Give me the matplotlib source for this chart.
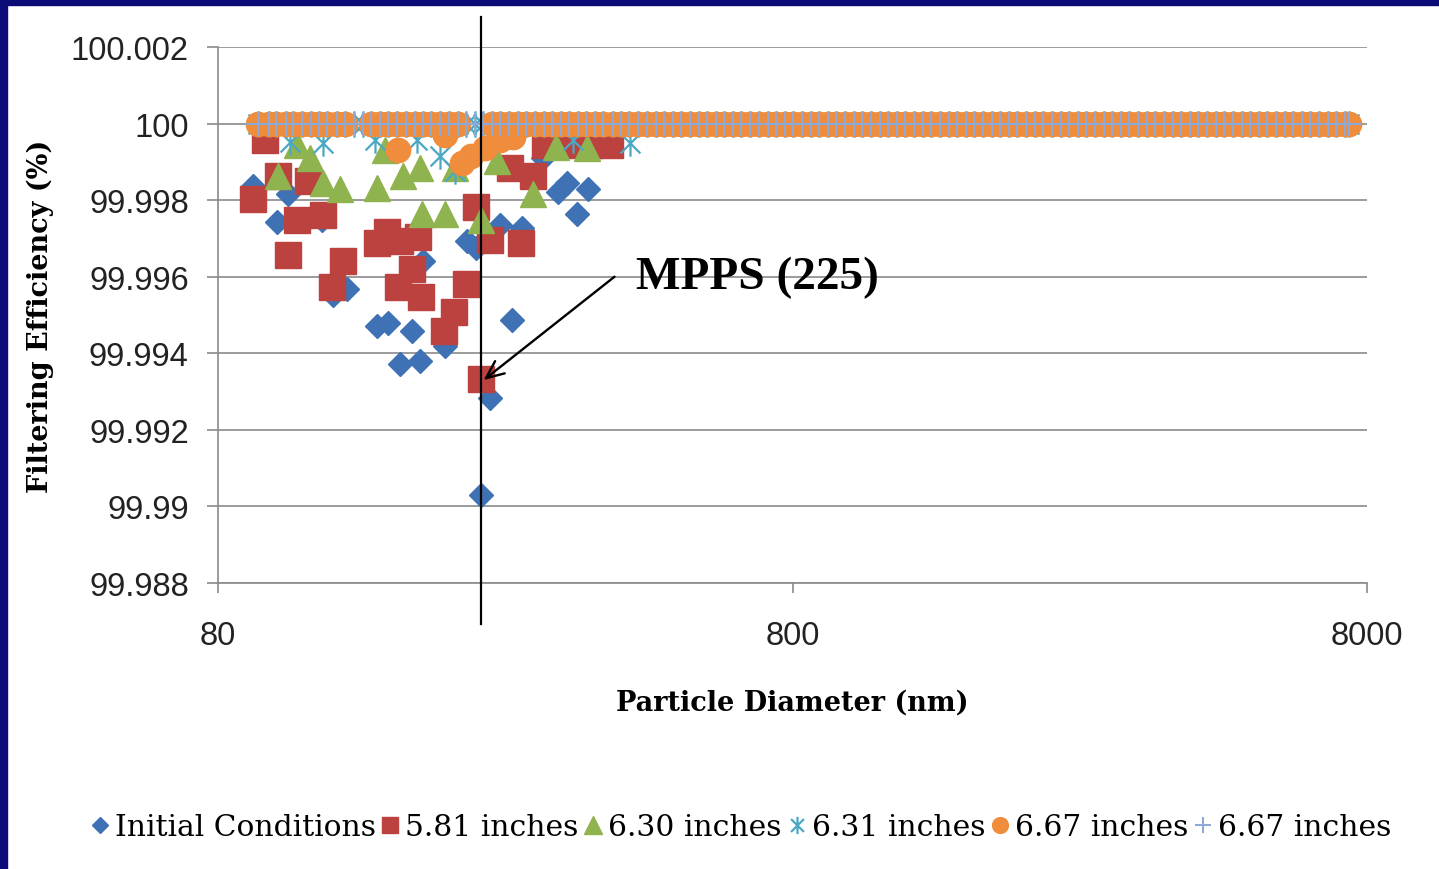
import numpy as np
import matplotlib.pyplot as plt
from matplotlib.path import Path
from matplotlib.patches import Rectangle
from matplotlib.ticker import NullLocator

# particle diameters (nm) of the size bins; most of them sit on the 100 % line
grid_nm = [94, 98, 101, 105, 108, 112, 116, 120, 124, 129, 133, 138, 143, 148, 153,
           158, 164, 170, 176, 182, 188, 195, 202, 209, 216, 224, 231, 240, 248, 257,
           266, 275, 285, 295, 305, 316, 327, 338, 350, 363, 375, 389, 402, 416, 431,
           446, 462, 478, 495, 512, 530, 549, 568, 588, 609, 630, 652, 675, 699, 724,
           749, 775, 803, 831, 860, 890, 921, 954, 987, 1022, 1058, 1095, 1134, 1174,
           1215, 1258, 1302, 1348, 1395, 1444, 1495, 1547, 1602, 1658, 1716, 1777,
           1839, 1904, 1971, 2040, 2112, 2186, 2263, 2342, 2425, 2510, 2598, 2689,
           2784, 2882, 2983, 3088, 3196, 3309, 3425, 3545, 3670, 3799, 3932, 4071,
           4214, 4362, 4515, 4674, 4838, 5008, 5184, 5366, 5555, 5750, 5952, 6161,
           6378, 6602, 6834, 7074, 7323, 7450]
band_eff = 100.0
orange_gap_nm = [138, 143, 216, 224, 231]

initial_nm = [92.0, 101.3, 105.9, 121.3, 126.8, 134.1, 151.2, 158.0, 165.8, 174.0,
              179.6, 181.8, 198.5, 216.8, 224.8, 229.3, 237.7, 247.4, 259.5, 270.2,
              294.0, 312.1, 323.6, 336.8, 352.0]
initial_eff = [99.99836, 99.99744, 99.99817, 99.99747, 99.99551, 99.99567, 99.99470,
               99.99478, 99.99371, 99.99459, 99.99381, 99.99642, 99.99420, 99.99692,
               99.99674, 99.99031, 99.99282, 99.99736, 99.99486, 99.99726, 99.99909,
               99.99822, 99.99846, 99.99765, 99.99830]

in581_nm = [92.0, 96.6, 101.7, 105.9, 109.8, 114.7, 121.8, 126.3, 132.0, 151.2,
            157.4, 164.5, 165.8, 174.0, 178.2, 180.3, 197.7, 205.8, 215.9, 224.8,
            229.3, 237.7, 257.6, 269.1, 282.4, 296.3, 321.0, 354.9, 384.4]
in581_eff = [99.99802, 99.99958, 99.99864, 99.99658, 99.99747, 99.99849, 99.99762,
             99.99574, 99.99642, 99.99689, 99.99718, 99.99574, 99.99692, 99.99621,
             99.99705, 99.99548, 99.99457, 99.99509, 99.99580, 99.99783, 99.99334,
             99.99695, 99.99883, 99.99687, 99.99864, 99.99945, 99.99945, 99.99945,
             99.99945]

in630_nm = [101.7, 109.8, 115.6, 121.8, 130.4, 151.2, 156.0, 167.8, 179.6, 181.1,
            198.5, 206.6, 229.3, 244.5, 282.4, 309.6, 350.6]
in630_eff = [99.99864, 99.99943, 99.99911, 99.99846, 99.99830, 99.99833, 99.99930,
             99.99864, 99.99885, 99.99765, 99.99765, 99.99883, 99.99747, 99.99903,
             99.99817, 99.99940, 99.99935]

in631_nm = [106.7, 121.8, 150.0, 177.5, 194.6, 206.6, 331.5, 416.5]
in631_eff = [99.99953, 99.99948, 99.99956, 99.99956, 99.99914, 99.99875, 99.99956,
             99.99948]

in667a_nm = [164.5, 198.5, 212.6, 220.6, 233.4, 247.4, 260.7]
in667a_eff = [99.99930, 99.99969, 99.99896, 99.99916, 99.99935, 99.99958, 99.99966]

mpps_label = "MPPS (225)"
yticks = [99.988, 99.990, 99.992, 99.994, 99.996, 99.998, 100.0, 100.002]
ytick_labels = ["99.988", "99.99", "99.992", "99.994", "99.996", "99.998", "100", "100.002"]
xticks = [80, 800, 8000]

STAR = Path([(0, -1), (0, 1), (-0.75, -0.75), (0.75, 0.75), (-0.75, 0.75), (0.75, -0.75)],
            [Path.MOVETO, Path.LINETO] * 3)


def main():
    W, H = 1439, 870
    fig = plt.figure(figsize=(W / 100, H / 100), dpi=100, facecolor="white")
    navy = "#0c0c78"
    fig.patches.append(Rectangle((0, 0), 7 / W, 1, transform=fig.transFigure,
                                 color=navy, zorder=-10))
    fig.patches.append(Rectangle((0, 1 - 6 / H), 1, 6 / H, transform=fig.transFigure,
                                 color=navy, zorder=-10))

    ax = fig.add_axes([218 / W, 1 - 584 / H, (1367 - 218) / W, (584 - 48) / H])
    ax.set_xscale("log")
    ax.set_xlim(80, 8000)
    ax.set_ylim(99.988, 100.002)

    band = [band_eff] * len(grid_nm)
    orange_band = [d for d in grid_nm if d not in orange_gap_nm]

    ax.plot(initial_nm, initial_eff, ls="none", marker="D", ms=12.5,
            color="#3f72b5", mec="#3f72b5", label="Initial Conditions", zorder=3)
    ax.plot(in581_nm, in581_eff, ls="none", marker="s", ms=18.5,
            color="#bb423e", mec="#bb423e", label="5.81 inches", zorder=3)
    ax.plot(in630_nm, in630_eff, ls="none", marker="^", ms=19,
            color="#8fb34e", mec="#8fb34e", label="6.30 inches", zorder=3)
    ax.plot(in631_nm + grid_nm, in631_eff + band, ls="none", marker=STAR, ms=19,
            mfc="none", mec="#4aa8c4", mew=1.6, label="6.31 inches", zorder=3)
    ax.plot(in667a_nm + orange_band, in667a_eff + [band_eff] * len(orange_band),
            ls="none", marker="o", ms=17.5, color="#ef8d3c", mec="#ef8d3c",
            label="6.67 inches", zorder=3)
    ax.plot(grid_nm, band, ls="none", marker="+", ms=17, mew=1.5,
            color="#8fa9d6", label="6.67 inches", zorder=3)

    mpps_nm = in581_nm[int(np.argmin(in581_eff))]
    ax.axvline(mpps_nm, ymin=-0.0765, ymax=1.056, color="black", lw=1.6,
               clip_on=False, zorder=5)
    ax.annotate("", xy=(232, 99.99330), xytext=(392, 99.99600),
                arrowprops=dict(arrowstyle="->,head_length=0.8,head_width=0.35",
                                lw=1.7, color="black", mutation_scale=16,
                                shrinkA=0, shrinkB=0), zorder=6)
    ax.text(427, 99.99600, mpps_label, ha="left", va="center",
            family="Liberation Serif", weight="bold", fontsize=34, zorder=6)

    ax.set_yticks(yticks)
    ax.set_yticklabels(ytick_labels)
    ax.set_xticks(xticks)
    ax.set_xticklabels([str(x) for x in xticks])
    ax.xaxis.set_minor_locator(NullLocator())

    grey = "#8a8a8a"
    ax.yaxis.grid(True, color=grey, lw=1.2)
    ax.set_axisbelow(True)
    for s in ("top", "right"):
        ax.spines[s].set_visible(False)
    for s in ("left", "bottom"):
        ax.spines[s].set_color(grey)
        ax.spines[s].set_linewidth(1.2)
    ax.tick_params(axis="y", length=8, width=1.2, color=grey, pad=13,
                   labelsize=23.5, labelcolor="#222222")
    ax.tick_params(axis="x", length=7.5, width=1.2, color=grey, pad=19,
                   labelsize=23.5, labelcolor="#222222")
    for lab in ax.get_xticklabels() + ax.get_yticklabels():
        lab.set_family("Liberation Sans")

    ax.set_xlabel("Particle Diameter (nm)", family="DejaVu Serif", weight="bold",
                  fontsize=19.5, va="center")
    ax.xaxis.set_label_coords(0.5, (584 - 703) / 536)
    ax.set_ylabel("Filtering Efficiency (%)", family="DejaVu Serif", weight="bold",
                  fontsize=19.5, va="center")
    ax.yaxis.set_label_coords((40 - 218) / 1149, 0.5)

    handles, labels = ax.get_legend_handles_labels()
    fig.legend(handles, labels, loc="center", bbox_to_anchor=(741 / W, 1 - 828 / H),
               ncol=6, frameon=False, markerscale=0.65, handlelength=0.6,
               handletextpad=0.2, columnspacing=0.2, borderpad=0,
               prop={"family": "DejaVu Serif", "size": 21.4})

    fig.savefig("out.png", dpi=100, facecolor=fig.get_facecolor())


if __name__ == "__main__":
    main()
